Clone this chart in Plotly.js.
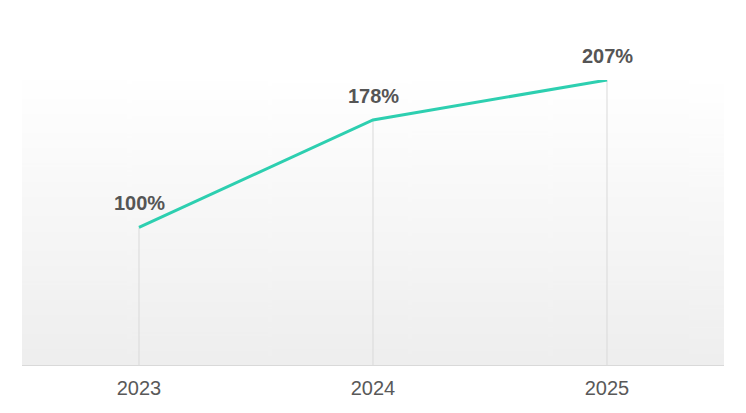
<!DOCTYPE html>
<html>
<head>
<meta charset="utf-8">
<script src="https://cdn.plot.ly/plotly-3.0.1.min.js"></script>
<style>
  html, body { margin: 0; padding: 0; background: #fff; }
  #chart { width: 746px; height: 413px; }
</style>
</head>
<body>
<div id="chart"></div>
<script>
const categories = ['2023', '2024', '2025'];
const values = [100, 178, 207];
const labels = ['100%', '178%', '207%'];

// gradient background image
const cv = document.createElement('canvas');
cv.width = 10; cv.height = 300;
const ctx = cv.getContext('2d');
const g = ctx.createLinearGradient(0, 0, 0, 300);
g.addColorStop(0, '#ffffff');
g.addColorStop(1, '#eeeeee');
ctx.fillStyle = g;
ctx.fillRect(0, 0, 10, 300);
const bgURL = cv.toDataURL();

// drop lines built from the data
const dropX = [], dropY = [];
categories.forEach((c, i) => { dropX.push(c, c, null); dropY.push(0, values[i], null); });

const traces = [
  { x: dropX, y: dropY, type: 'scatter', mode: 'lines',
    line: { color: '#d9d9d9', width: 1 }, hoverinfo: 'skip', showlegend: false },
  { x: categories, y: values, type: 'scatter', mode: 'lines',
    line: { color: '#2dcfb0', width: 3 }, showlegend: false, cliponaxis: false }
];

const annotations = categories.map((c, i) => ({
  x: i, y: values[i], xref: 'x', yref: 'y', text: '<b>' + labels[i] + '</b>', showarrow: false,
  yanchor: 'bottom', yshift: 11,
  font: { family: 'Liberation Sans, Arial, sans-serif', size: 20, color: '#555555' }
}));

const layout = {
  width: 746, height: 413,
  margin: { l: 22, r: 22, t: 80, b: 48 },
  paper_bgcolor: '#ffffff',
  plot_bgcolor: 'rgba(0,0,0,0)',
  showlegend: false,
  images: [{ source: bgURL, xref: 'paper', yref: 'paper', x: 0, y: 1, sizex: 1, sizey: 1,
             sizing: 'stretch', xanchor: 'left', yanchor: 'top', layer: 'below' }],
  xaxis: {
    type: 'category', range: [-0.5, 2.5], showgrid: false, zeroline: false,
    showline: true, linecolor: '#d9d9d9', linewidth: 1, ticks: '',
    tickfont: { family: 'Liberation Sans, Arial, sans-serif', size: 20, color: '#595959' },
    ticklabelstandoff: 5
  },
  yaxis: {
    range: [0, 207], showgrid: false, zeroline: false, showline: false,
    showticklabels: false, ticks: ''
  },
  annotations: annotations
};

Plotly.newPlot('chart', traces, layout, { displayModeBar: false, staticPlot: true });
</script>
</body>
</html>
